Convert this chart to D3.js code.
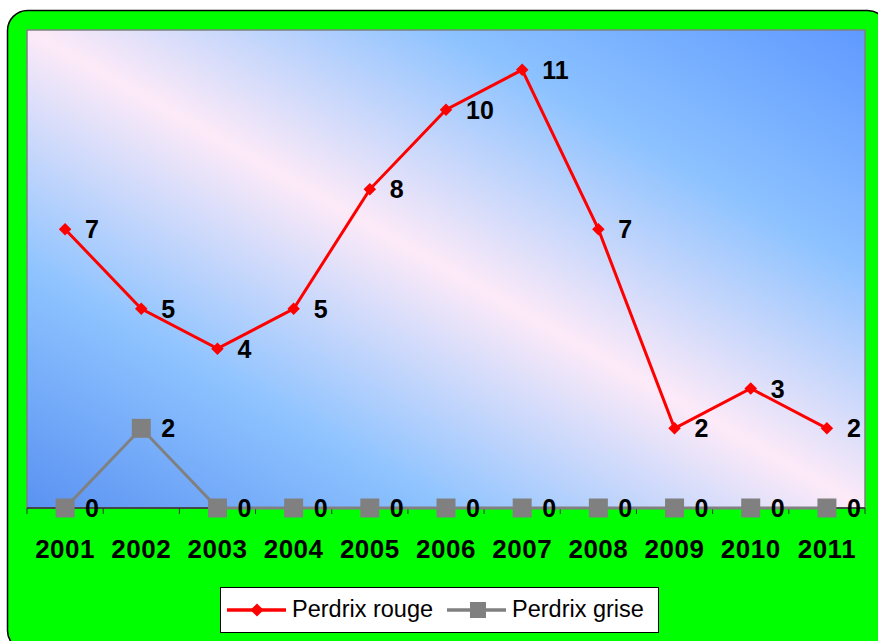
<!DOCTYPE html>
<html>
<head>
<meta charset="utf-8">
<script src="https://cdn.jsdelivr.net/npm/d3@7"></script>
<style>
  body { margin: 0; background: #fff; }
  text { font-family: Arial, "Liberation Sans", sans-serif; }
</style>
</head>
<body>
<div id="chart"></div>
<script>
const years = ["2001", "2002", "2003", "2004", "2005", "2006", "2007", "2008", "2009", "2010", "2011"];
const rouge = [7, 5, 4, 5, 8, 10, 11, 7, 2, 3, 2];
const grise = [0, 2, 0, 0, 0, 0, 0, 0, 0, 0, 0];
const seriesNames = ["Perdrix rouge", "Perdrix grise"];

const W = 878, H = 641;
const plot = {left: 27, top: 30, right: 865, bottom: 508};

const svg = d3.select("#chart")
  .append("svg")
  .attr("width", W)
  .attr("height", H);

// background gradient of the plot area
const defs = svg.append("defs");
const grad = defs.append("linearGradient")
  .attr("id", "bg")
  .attr("gradientUnits", "userSpaceOnUse")
  .attr("x1", 240).attr("y1", 630)
  .attr("x2", 652).attr("y2", -92);
[[0, "#5a92f2"], [0.25, "#8ec3ff"], [0.5, "#fdeaf8"], [0.75, "#8cc2ff"], [1, "#5f99ff"]]
  .forEach(([o, c]) => grad.append("stop").attr("offset", o).attr("stop-color", c));

// green frame
svg.append("rect")
  .attr("x", 7.5).attr("y", 10.5)
  .attr("width", 880).attr("height", 640)
  .attr("rx", 20)
  .attr("fill", "#00ff00")
  .attr("stroke", "#000")
  .attr("stroke-width", 1.5);

svg.append("rect")
  .attr("x", plot.left).attr("y", plot.top)
  .attr("width", plot.right - plot.left)
  .attr("height", plot.bottom - plot.top)
  .attr("fill", "url(#bg)")
  .attr("stroke", "#808080")
  .attr("stroke-width", 1.5);

const x = d3.scaleBand()
  .domain(years)
  .range([plot.left, plot.right])
  .padding(0);

const y = d3.scaleLinear()
  .domain([0, 12])
  .range([plot.bottom, plot.top]);

const cx = d => x(d) + x.bandwidth() / 2;

// x axis
const axis = svg.append("g")
  .attr("transform", `translate(0,${plot.bottom})`);
axis.append("line")
  .attr("x1", plot.left).attr("x2", plot.right)
  .attr("stroke", "#333").attr("stroke-width", 1.5);
axis.selectAll(".tick")
  .data(years.concat(["end"]))
  .enter().append("line")
  .attr("x1", (d, i) => plot.left + i * x.bandwidth())
  .attr("x2", (d, i) => plot.left + i * x.bandwidth())
  .attr("y1", 0).attr("y2", 6)
  .attr("stroke", "#333");
axis.selectAll(".lbl")
  .data(years)
  .enter().append("text")
  .attr("x", d => cx(d))
  .attr("y", 50)
  .attr("text-anchor", "middle")
  .style("font-size", "26px")
  .style("letter-spacing", "0.5px")
  .style("font-weight", "bold")
  .text(d => d);

const line = d3.line()
  .x((d, i) => cx(years[i]))
  .y(d => y(d));

// grey series
svg.append("path")
  .datum(grise)
  .attr("d", line)
  .attr("fill", "none")
  .attr("stroke", "#808080")
  .attr("stroke-width", 3);
svg.selectAll(".sq")
  .data(grise)
  .enter().append("rect")
  .attr("x", (d, i) => cx(years[i]) - 9.5)
  .attr("y", d => y(d) - 9.5)
  .attr("width", 19).attr("height", 19)
  .attr("fill", "#808080");

// red series
svg.append("path")
  .datum(rouge)
  .attr("d", line)
  .attr("fill", "none")
  .attr("stroke", "#ff0000")
  .attr("stroke-width", 3);
svg.selectAll(".dia")
  .data(rouge)
  .enter().append("path")
  .attr("d", d3.symbol(d3.symbolDiamond2, 100))
  .attr("transform", (d, i) => `translate(${cx(years[i])},${y(d)})`)
  .attr("fill", "#ff0000");

// data labels
function labels(vals) {
  svg.append("g").selectAll("text")
    .data(vals)
    .enter().append("text")
    .attr("x", (d, i) => cx(years[i]) + 20)
    .attr("y", d => y(d) + 9)
    .style("font-size", "25px")
    .style("font-weight", "bold")
    .text(d => d);
}
labels(rouge);
labels(grise);

// legend
const lg = svg.append("g").attr("transform", "translate(220,587)");
lg.append("rect")
  .attr("x", 0.5).attr("y", 0.5)
  .attr("width", 438).attr("height", 45)
  .attr("fill", "#fff")
  .attr("stroke", "#000");
const items = [
  {name: seriesNames[0], color: "#ff0000", x0: 7},
  {name: seriesNames[1], color: "#808080", x0: 227}
];
items.forEach(it => {
  lg.append("line")
    .attr("x1", it.x0).attr("x2", it.x0 + 59)
    .attr("y1", 23).attr("y2", 23)
    .attr("stroke", it.color).attr("stroke-width", 3.5);
  if (it.color === "#ff0000") {
    lg.append("path")
      .attr("d", d3.symbol(d3.symbolDiamond2, 110))
      .attr("transform", `translate(${it.x0 + 30},23)`)
      .attr("fill", it.color);
  } else {
    lg.append("rect")
      .attr("x", it.x0 + 23).attr("y", 15)
      .attr("width", 16).attr("height", 16)
      .attr("fill", it.color);
  }
  lg.append("text")
    .attr("x", it.x0 + 65)
    .attr("y", 30)
    .style("font-size", "23.5px")
    .text(it.name);
});
</script>
</body>
</html>
